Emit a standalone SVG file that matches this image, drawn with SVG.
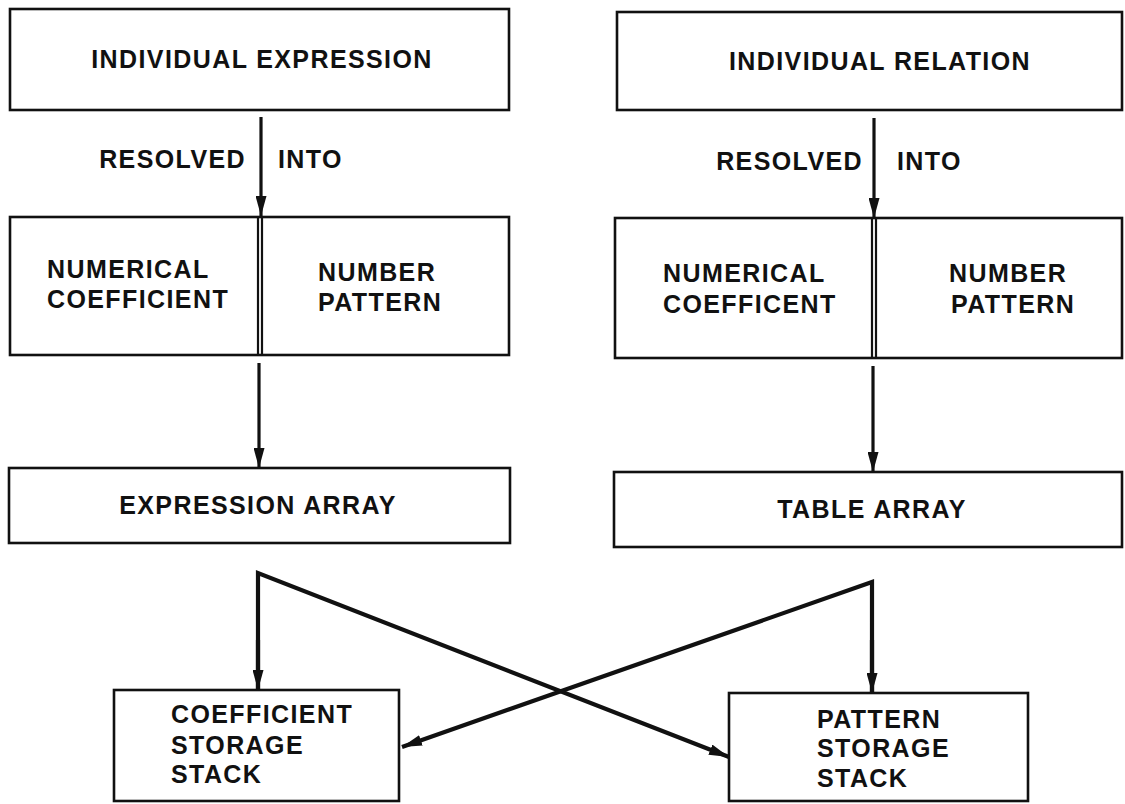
<svg xmlns="http://www.w3.org/2000/svg" width="1125" height="804" viewBox="0 0 1125 804">
<style>
.box{fill:#fff;stroke:#111;stroke-width:2.6}
.t{font-family:"Liberation Sans",Arial,sans-serif;font-weight:bold;font-size:25px;fill:#111;letter-spacing:1.4px}
.c{text-anchor:middle}
.ln{fill:none;stroke:#111;stroke-width:3.2}
.dx{fill:none;stroke:#111;stroke-width:4.2;stroke-linejoin:miter}
.dv{stroke:#111;stroke-width:2.2}
</style>
<defs>
<marker id="ah" viewBox="0 0 20 11" refX="20" refY="5.5" markerWidth="20" markerHeight="11" markerUnits="userSpaceOnUse" orient="auto">
<path d="M0,0 L20,5.5 L0,11 Z" fill="#111"/>
</marker>
</defs>
<rect width="1125" height="804" fill="#fff"/>
<g id="individual-expression">
<rect class="box" x="10" y="9" width="499" height="101"/>
<text class="t c" x="262" y="68">INDIVIDUAL EXPRESSION</text>
</g>
<g id="individual-relation">
<rect class="box" x="617" y="12" width="505" height="98"/>
<text class="t c" x="880" y="70">INDIVIDUAL RELATION</text>
</g>
<g id="left-split">
<rect class="box" x="10" y="217" width="499" height="138"/>
<line class="dv" x1="258" y1="217" x2="258" y2="355"/>
<line class="dv" x1="262" y1="217" x2="262" y2="355"/>
<text class="t" x="47" y="278">NUMERICAL</text>
<text class="t" x="47" y="308">COEFFICIENT</text>
<text class="t" x="318" y="281">NUMBER</text>
<text class="t" x="318" y="311">PATTERN</text>
</g>
<g id="right-split">
<rect class="box" x="615" y="218" width="507" height="140"/>
<line class="dv" x1="872" y1="218" x2="872" y2="358"/>
<line class="dv" x1="876" y1="218" x2="876" y2="358"/>
<text class="t" x="663" y="282">NUMERICAL</text>
<text class="t" x="663" y="313">COEFFICENT</text>
<text class="t" x="949" y="282">NUMBER</text>
<text class="t" x="951" y="313">PATTERN</text>
</g>
<g id="expression-array">
<rect class="box" x="9" y="468" width="501" height="75"/>
<text class="t c" x="258" y="514">EXPRESSION ARRAY</text>
</g>
<g id="table-array">
<rect class="box" x="614" y="472" width="508" height="75"/>
<text class="t c" x="872" y="518">TABLE ARRAY</text>
</g>
<g id="coefficient-stack">
<rect class="box" x="114" y="690" width="285" height="111"/>
<text class="t" x="171" y="723">COEFFICIENT</text>
<text class="t" x="171" y="754">STORAGE</text>
<text class="t" x="171" y="783">STACK</text>
</g>
<g id="pattern-stack">
<rect class="box" x="729" y="693" width="299" height="108"/>
<text class="t" x="817" y="728">PATTERN</text>
<text class="t" x="817" y="757">STORAGE</text>
<text class="t" x="817" y="787">STACK</text>
</g>
<g id="connectors">
<line class="ln" x1="261" y1="117" x2="261" y2="216" marker-end="url(#ah)"/>
<text class="t" x="246" y="168" text-anchor="end">RESOLVED</text>
<text class="t" x="278" y="168">INTO</text>
<line class="ln" x1="874" y1="118" x2="874" y2="218" marker-end="url(#ah)"/>
<text class="t" x="863" y="170" text-anchor="end">RESOLVED</text>
<text class="t" x="897" y="170">INTO</text>
<line class="ln" x1="259" y1="363" x2="259" y2="468" marker-end="url(#ah)"/>
<line class="ln" x1="873" y1="366" x2="873" y2="472" marker-end="url(#ah)"/>
<path class="dx" d="M258,690 L258,573 L729,757" marker-end="url(#ah)"/>
<line class="dx" x1="258" y1="640" x2="258" y2="690" marker-end="url(#ah)"/>
<path class="dx" d="M872,693 L872,582 L402,747" marker-end="url(#ah)"/>
<line class="dx" x1="872" y1="640" x2="872" y2="693" marker-end="url(#ah)"/>
</g>
</svg>
